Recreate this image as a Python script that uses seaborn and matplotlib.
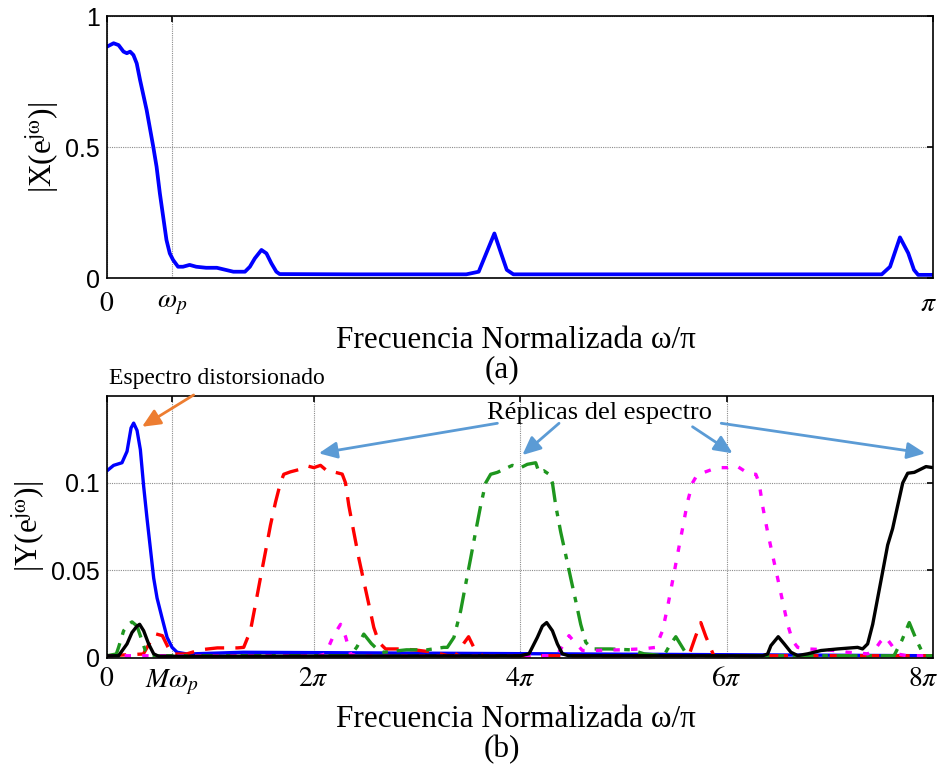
import numpy as np
import pandas as pd
import matplotlib
matplotlib.use("Agg")
import matplotlib.pyplot as plt
import matplotlib.transforms as mtransforms
import seaborn as sns

# ---- (a) input spectrum |X(e^jw)|, frequency in units of pi ----
x_in = [0, 0.008, 0.014, 0.020, 0.024, 0.028, 0.032, 0.036, 0.040, 0.048,
        0.056, 0.060, 0.064, 0.068, 0.072, 0.076, 0.080, 0.086, 0.092, 0.100,
        0.108, 0.120, 0.133, 0.153, 0.167, 0.173, 0.179, 0.187, 0.193, 0.199,
        0.205, 0.209, 0.300, 0.435, 0.450, 0.469, 0.477, 0.484, 0.492, 0.600,
        0.938, 0.948, 0.960, 0.970, 0.977, 0.982, 1.0]
mag_in = [0.883, 0.896, 0.889, 0.864, 0.858, 0.864, 0.851, 0.819, 0.756, 0.641,
          0.501, 0.425, 0.323, 0.234, 0.145, 0.094, 0.069, 0.043, 0.043, 0.050,
          0.043, 0.039, 0.039, 0.024, 0.024, 0.043, 0.075, 0.107, 0.094, 0.056,
          0.024, 0.015, 0.014, 0.014, 0.024, 0.170, 0.095, 0.031, 0.014, 0.014,
          0.014, 0.043, 0.155, 0.095, 0.031, 0.012, 0.012]

# ---- (b) upsampled spectrum |Y(e^jw)| and its replicas ----
x_blue = [0, 0.064, 0.145, 0.194, 0.233, 0.258, 0.291, 0.323, 0.355, 0.388,
          0.420, 0.452, 0.485, 0.533, 0.582, 0.630, 0.679, 0.776, 1.32, 8.0]
y_blue = [0.1069, 0.110, 0.1115, 0.118, 0.1314, 0.1342, 0.130, 0.119, 0.098, 0.0794,
          0.0625, 0.0455, 0.034, 0.0227, 0.0115, 0.0058, 0.003, 0.002, 0.003, 0.001]

x_red = [0, 0.352, 0.41, 0.468, 0.536, 0.59, 0.630, 0.769, 0.904, 1.069,
         1.263, 1.324, 1.389, 1.438, 1.486, 1.535, 1.583, 1.632, 1.680, 1.712,
         1.777, 1.874, 1.939, 2.003, 2.068, 2.148, 2.213, 2.278, 2.310, 2.342,
         2.390, 2.439, 2.487, 2.536, 2.584, 2.633, 2.698, 2.811, 2.972, 3.166,
         3.296, 3.376, 3.454, 3.502, 3.551, 3.635, 5.635, 5.70, 5.751, 5.80,
         5.877, 8.0]
y_red = [0.001, 0.002, 0.008, 0.0136, 0.0125, 0.006, 0.002, 0.002, 0.0044, 0.0055,
         0.0055, 0.0058, 0.0153, 0.0304, 0.0455, 0.0606, 0.0757, 0.0889, 0.100, 0.1049,
         0.1063, 0.1078, 0.1097, 0.1087, 0.110, 0.106, 0.106, 0.105, 0.100, 0.087,
         0.0719, 0.0568, 0.0436, 0.0304, 0.0172, 0.0087, 0.0049, 0.0049, 0.0044, 0.003,
         0.0011, 0.001, 0.008, 0.0119, 0.006, 0.001, 0.001, 0.012, 0.020, 0.012,
         0.001, 0.001]

x_green = [0, 0.09, 0.112, 0.161, 0.209, 0.242, 0.291, 0.339, 0.371, 0.42,
           2.358, 2.42, 2.487, 2.56, 2.630, 2.681, 2.90, 3.10, 3.260, 3.296,
           3.360, 3.425, 3.473, 3.522, 3.570, 3.619, 3.668, 3.716, 3.781, 3.845,
           3.926, 4.007, 4.071, 4.152, 4.184, 4.232, 4.281, 4.314, 4.346, 4.394,
           4.443, 4.491, 4.540, 4.588, 4.637, 4.701, 4.879, 5.073, 5.202, 5.393,
           5.45, 5.509, 5.56, 5.622, 7.622, 7.70, 7.770, 7.84, 7.913, 8.0]
y_green = [0.001, 0.002, 0.0058, 0.0153, 0.019, 0.0204, 0.018, 0.0096, 0.004, 0.001,
           0.001, 0.006, 0.0134, 0.008, 0.004, 0.003, 0.0044, 0.0044, 0.0058, 0.0058,
           0.0115, 0.0266, 0.0417, 0.0568, 0.0719, 0.087, 0.100, 0.1049, 0.106, 0.1078,
           0.110, 0.1087, 0.1106, 0.1115, 0.106, 0.1069, 0.1049, 0.100, 0.087, 0.0719,
           0.0587, 0.0455, 0.0323, 0.019, 0.0087, 0.0049, 0.0049, 0.0044, 0.0021, 0.001,
           0.007, 0.0119, 0.007, 0.001, 0.001, 0.010, 0.020, 0.010, 0.001, 0.001]

x_magenta = [0, 2.05, 2.116, 2.19, 2.262, 2.31, 2.358, 2.42, 4.30, 4.375,
             4.475, 4.54, 4.605, 4.685, 4.976, 5.20, 5.315, 5.380, 5.428, 5.477,
             5.525, 5.574, 5.622, 5.671, 5.719, 5.783, 5.848, 5.946, 6.010, 6.09,
             6.171, 6.236, 6.284, 6.316, 6.349, 6.398, 6.446, 6.495, 6.543, 6.592,
             6.640, 6.689, 6.786, 6.980, 7.173, 7.367, 7.431, 7.49, 7.538, 7.60,
             7.658, 7.75, 8.0]
y_magenta = [0.001, 0.001, 0.002, 0.012, 0.019, 0.012, 0.002, 0.001, 0.001, 0.003,
             0.0125, 0.008, 0.004, 0.004, 0.0044, 0.005, 0.0058, 0.0153, 0.0285, 0.0436,
             0.0587, 0.0738, 0.0889, 0.100, 0.1049, 0.106, 0.1074, 0.1087, 0.1087, 0.110,
             0.1069, 0.1049, 0.1049, 0.100, 0.087, 0.0719, 0.0587, 0.0455, 0.0323, 0.019,
             0.0096, 0.0058, 0.0049, 0.0044, 0.003, 0.0021, 0.004, 0.009, 0.0119, 0.007,
             0.002, 0.001, 0.001]

x_black = [0, 0.112, 0.194, 0.242, 0.291, 0.316, 0.355, 0.403, 0.452, 0.500,
           4.0, 4.087, 4.168, 4.217, 4.258, 4.314, 4.362, 4.411, 4.47, 6.35,
           6.398, 6.430, 6.501, 6.559, 6.624, 6.689, 6.786, 6.915, 7.076, 7.270,
           7.318, 7.367, 7.416, 7.464, 7.513, 7.561, 7.609, 7.658, 7.707, 7.755,
           7.819, 7.867, 7.932, 8.0]
y_black = [0.001, 0.001, 0.0078, 0.0143, 0.018, 0.019, 0.0153, 0.0078, 0.0021, 0.0007,
           0.001, 0.0021, 0.0115, 0.018, 0.020, 0.0153, 0.0078, 0.0021, 0.001, 0.001,
           0.002, 0.0068, 0.0119, 0.0078, 0.003, 0.0011, 0.0021, 0.004, 0.0049, 0.0058,
           0.0049, 0.0078, 0.019, 0.034, 0.0493, 0.0644, 0.0738, 0.087, 0.100, 0.1055,
           0.106, 0.1074, 0.1093, 0.1087]

# tick positions / labels
wp = 0.0785            # passband edge, in units of pi
M = 8                  # upsampling factor
top_xticks = [0, wp, 1]
top_xlabels = [r"$0$", r"$\omega_p$", r"$\pi$"]
top_yticks = [0, 0.5, 1]
top_ylabels = ["0", "0.5", "1"]
bot_xticks = [0, M * wp, 2, 4, 6, 8]
bot_xlabels = [r"$0$", r"$M\omega_p$", r"$2\pi$", r"$4\pi$", r"$6\pi$", r"$8\pi$"]
bot_yticks = [0, 0.05, 0.1]
bot_ylabels = ["0", "0.05", "0.1"]

sns.set_theme(style="white")
plt.rcParams["font.family"] = ["Liberation Serif", "DejaVu Serif"]
plt.rcParams["mathtext.fontset"] = "stix"
for key in ("text.color", "axes.labelcolor", "xtick.color", "ytick.color",
            "xtick.labelcolor", "ytick.labelcolor"):
    plt.rcParams[key] = "black"

W, H = 939, 768
fig = plt.figure(figsize=(W / 100, H / 100), dpi=100)
fig.patch.set_facecolor("white")

def px_axes(left, top, right, bottom):
    return fig.add_axes([left / W, 1 - bottom / H, (right - left) / W, (bottom - top) / H])

ax1 = px_axes(107, 16, 933, 278)
ax2 = px_axes(107, 395.5, 933, 657.5)

SANS = "Liberation Sans"

def style_axes(ax, xt, xl, yt, yl, xlim, ylim, xpad, last_shift):
    ax.set_facecolor("white")
    ax.set_xlim(*xlim)
    ax.set_ylim(*ylim)
    ax.set_xticks(xt, labels=xl, fontsize=20)
    ax.set_yticks(yt, labels=yl, fontsize=18, fontfamily=SANS)
    ax.tick_params(axis="both", direction="in", top=True, right=True,
                   length=4, width=1.2, color="black")
    ax.tick_params(axis="x", pad=xpad)
    ax.tick_params(axis="y", pad=5)
    ax.grid(True, color="#8c8c8c", linestyle=(0, (1, 1)), linewidth=0.8)
    for s in ax.spines.values():
        s.set_visible(True)
        s.set_color("black")
        s.set_linewidth(1.2)
    ax.set_xlabel("")
    # keep the right-most tick label inside the figure
    lbl = ax.get_xticklabels()[-1]
    lbl.set_transform(lbl.get_transform() +
                      mtransforms.ScaledTranslation(last_shift / 100, 0, fig.dpi_scale_trans))

# ---- panel (a) ----
df_in = pd.DataFrame({"w": x_in, "mag": mag_in})
sns.lineplot(data=df_in, x="w", y="mag", ax=ax1, color="#0000ff", lw=2.7,
             estimator=None, sort=False)
style_axes(ax1, top_xticks, top_xlabels, top_yticks, top_ylabels, (0, 1), (0, 1), 10, -5)
ax1.set_ylabel(r"|X(e$^{\mathrm{j\omega}}$)|", fontsize=22.5, labelpad=3)

# ---- panel (b) ----
curves = [
    (x_blue, y_blue, "#0000ff", None),
    (x_red, y_red, "#ff0000", (2.4, 1.4)),
    (x_green, y_green, "#1e961e", (2.6, 1.1, 0.7, 1.1)),
    (x_magenta, y_magenta, "#ff00ff", (0.8, 1.4)),
    (x_black, y_black, "#000000", None),
]
for xs, ys, col, dash in curves:
    d = pd.DataFrame({"w": xs, "mag": ys})
    sns.lineplot(data=d, x="w", y="mag", ax=ax2, color=col, lw=2.4,
                 estimator=None, sort=False)
    ln = ax2.lines[-1]
    if dash is not None:
        ln.set_dashes([v * 2.4 for v in dash])
        ln.set_dash_capstyle("butt")
style_axes(ax2, bot_xticks, bot_xlabels, bot_yticks, bot_ylabels, (0, 8), (0, 0.15), 7, -10)
ax2.set_ylabel(r"|Y(e$^{\mathrm{j\omega}}$)|", fontsize=22.5, labelpad=3)

# annotations
orange = "#ed7d31"
lblue = "#5b9bd5"
ax2.text(1.064, 0.1566, "Espectro distorsionado", fontsize=17, ha="center",
         va="baseline", clip_on=False)
ax2.annotate("", xy=(0.339, 0.1321), xytext=(0.839, 0.1503),
             arrowprops=dict(arrowstyle="-|>,head_length=1.1,head_width=0.5",
                             color=orange, lw=2, shrinkA=0, shrinkB=0,
                             mutation_scale=10), annotation_clip=False)
ax2.text(4.774, 0.1364, "Réplicas del espectro", fontsize=19, ha="center",
         va="baseline")
arrows = [((3.781, 0.1341), (2.051, 0.1169)),
          ((4.378, 0.1341), (4.023, 0.1159)),
          ((5.671, 0.1321), (6.059, 0.1169)),
          ((5.949, 0.1341), (7.926, 0.1169))]
for tail, tip in arrows:
    ax2.annotate("", xy=tip, xytext=tail,
                 arrowprops=dict(arrowstyle="-|>,head_length=1.1,head_width=0.5",
                                 color=lblue, lw=2, shrinkA=0, shrinkB=0,
                                 mutation_scale=10), annotation_clip=False)

# axis titles and panel captions
fig.text(516 / W, 1 - 348 / H, "Frecuencia Normalizada ω/π", fontsize=22.5,
         ha="center", va="baseline")
fig.text(502 / W, 1 - 377 / H, "(a)", fontsize=22.5, ha="center", va="baseline")
fig.text(516 / W, 1 - 727 / H, "Frecuencia Normalizada ω/π", fontsize=22.5,
         ha="center", va="baseline")
fig.text(502 / W, 1 - 757 / H, "(b)", fontsize=22.5, ha="center", va="baseline")

fig.savefig("out.png", dpi=100, facecolor="white")
